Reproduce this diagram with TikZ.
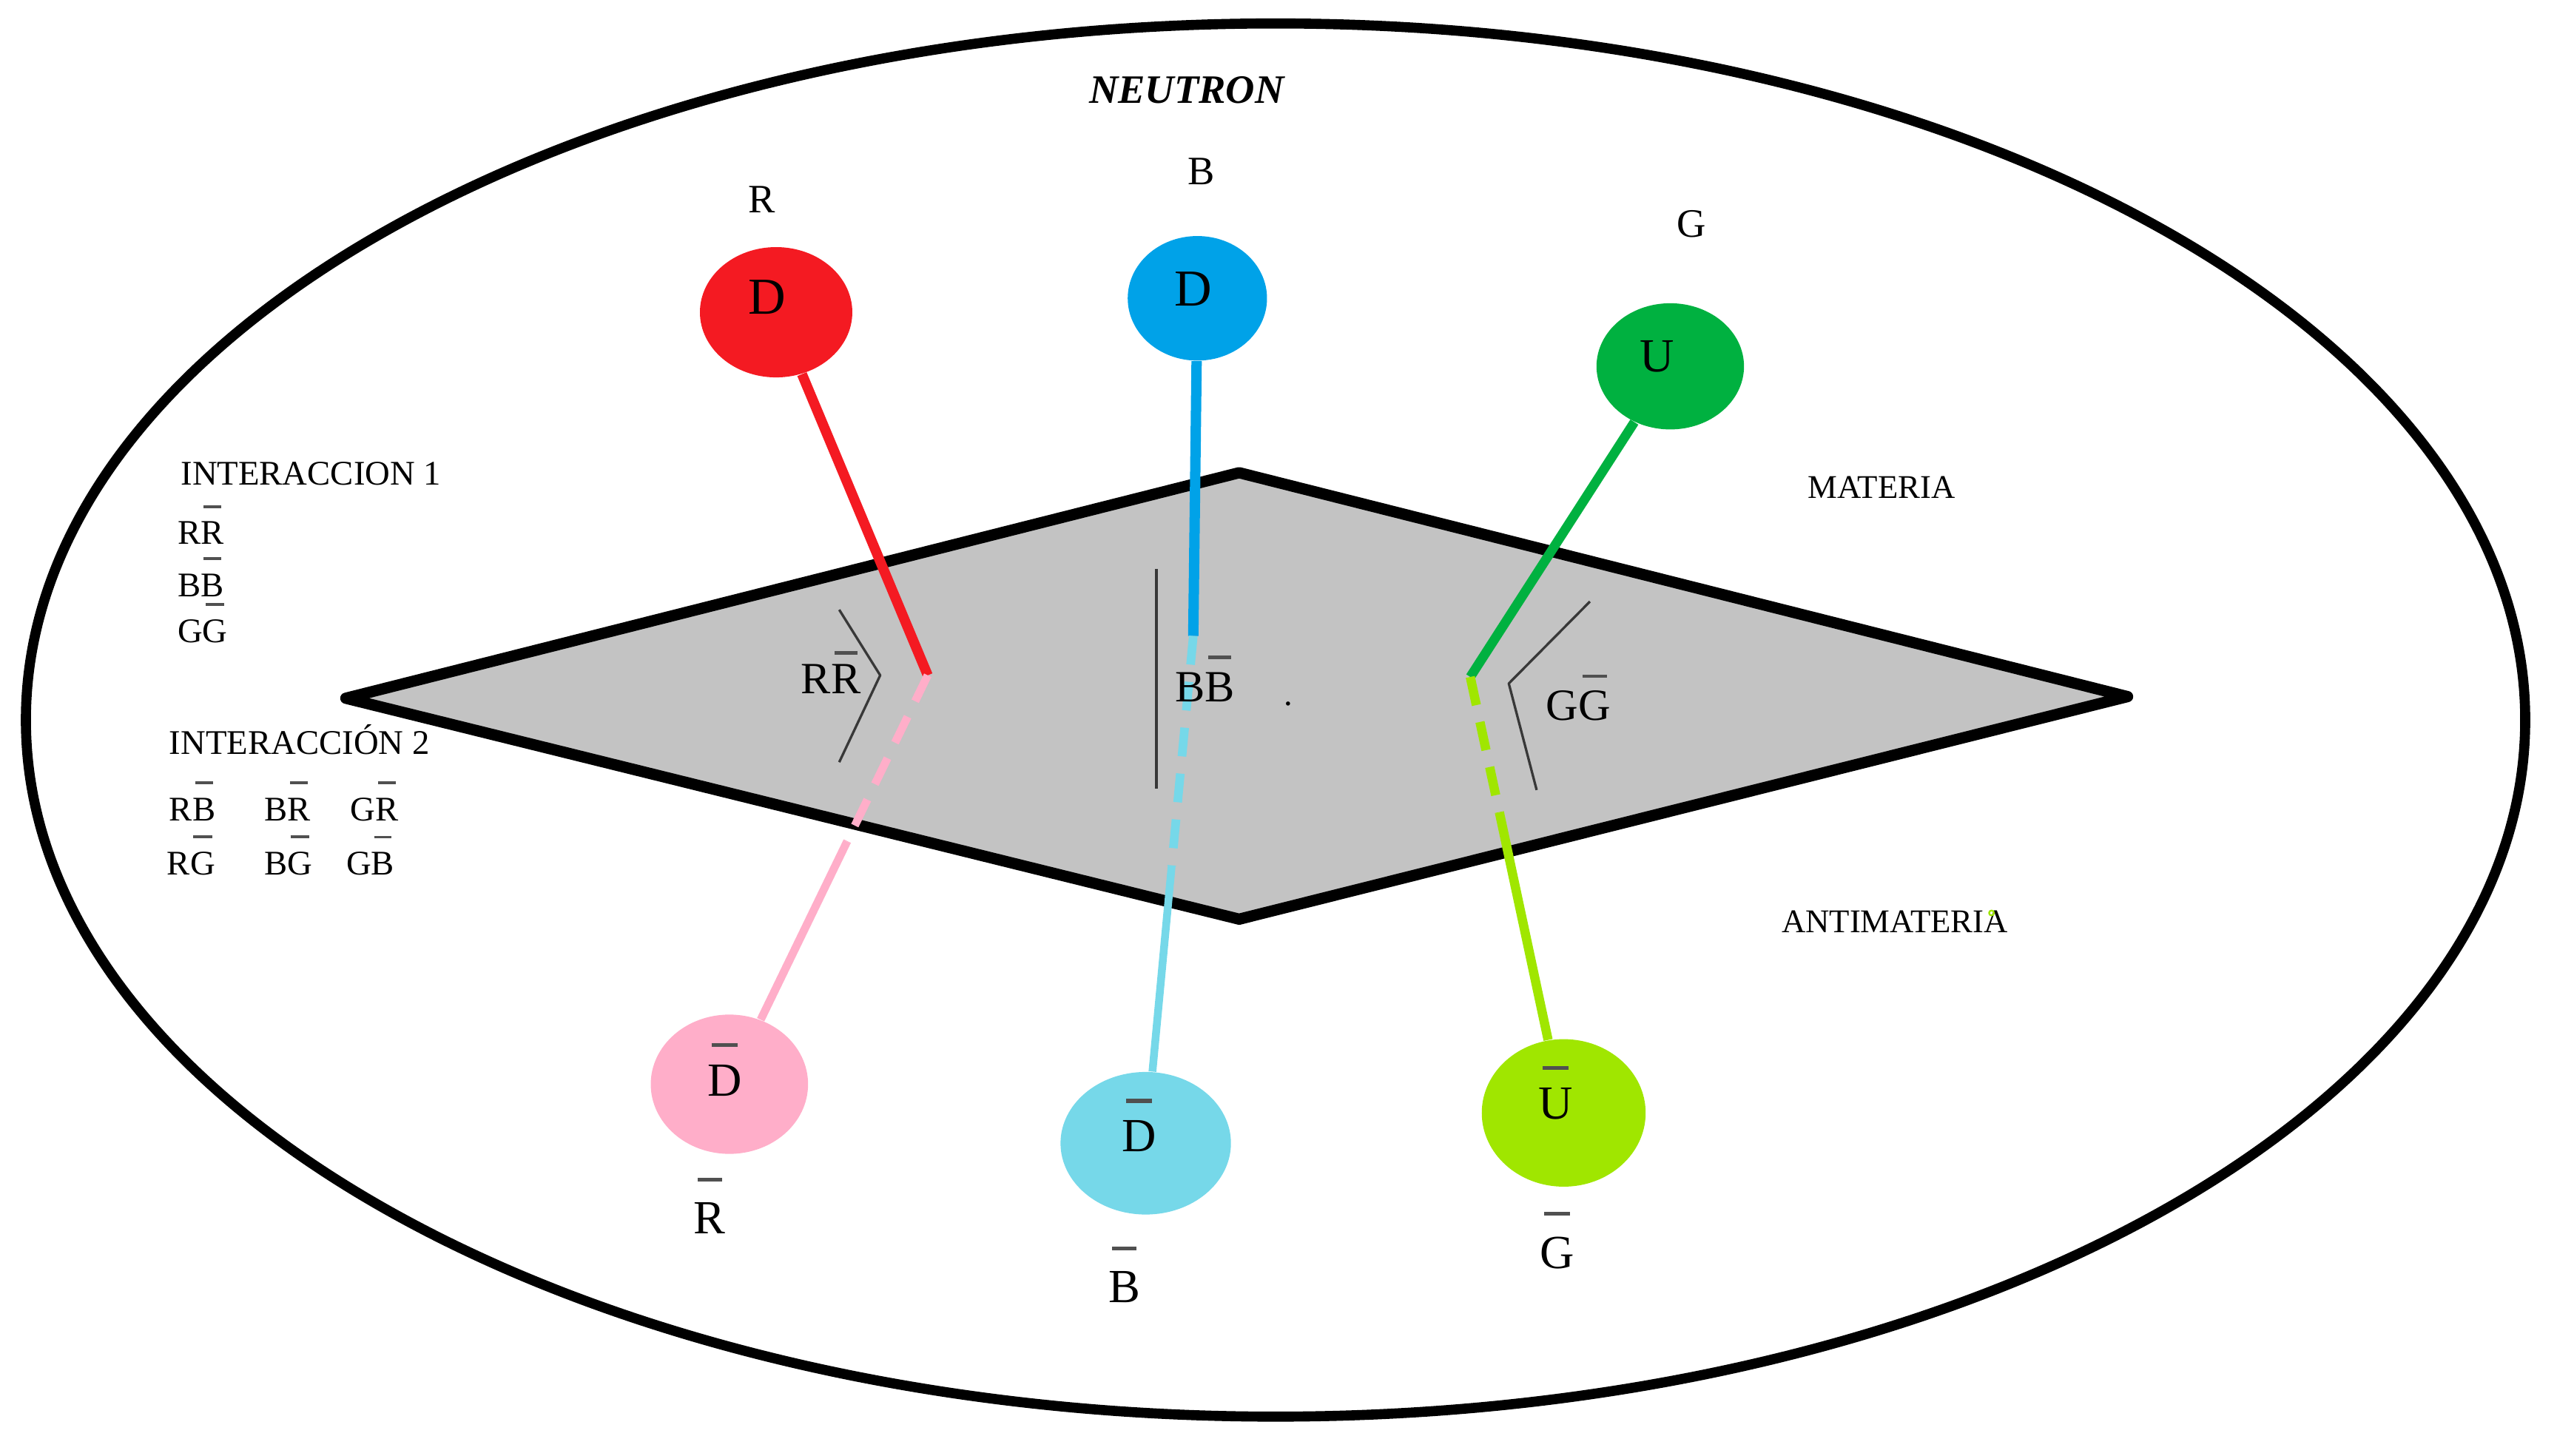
\documentclass[tikz,border=0pt]{standalone}
\usepackage{fontspec}
\setmainfont{Liberation Serif}
\usetikzlibrary{shapes.geometric}
\definecolor{qred}{HTML}{F41A22}
\definecolor{qblue}{HTML}{00A2E8}
\definecolor{qgreen}{HTML}{00B140}
\definecolor{qpink}{HTML}{FFAEC9}
\definecolor{qcyan}{HTML}{76D8E9}
\definecolor{qlime}{HTML}{A0E600}
\definecolor{plane}{HTML}{C3C3C3}
\definecolor{barc}{HTML}{505050}
% letter with a raised bar above it (does not change the box height)
\newcommand{\ob}[2][0.4em]{{\setbox0=\hbox{#2}\rlap{\hspace{0.12\wd0}\smash{\raisebox{\dimexpr\ht0+#1\relax}{\textcolor{barc}{\rule{0.76\wd0}{0.08em}}}}}\box0}}
\tikzset{
  quark/.style={ellipse, draw=none, inner sep=0pt},
  txt/.style={inner sep=0pt, text height=0.66em, text depth=0pt},
  small/.style={txt, font=\fontsize{12}{14}\selectfont},
  mid/.style={txt, font=\fontsize{14}{16}\selectfont},
  big/.style={txt, font=\fontsize{16.5}{19}\selectfont},
  huge/.style={txt, font=\fontsize{18}{21}\selectfont},
  planelbl/.style={txt, font=\fontsize{15.5}{18}\selectfont},
  bracket/.style={draw=black!78, line width=0.85pt},
  dashpat/.style={dash pattern=on 10pt off 6pt},
}
\begin{document}
\begin{tikzpicture}[x=0.02cm, y=-0.02cm, line join=round]
\useasboundingbox (0,0) rectangle (1560,887.9);

% outer neutron ellipse
\draw[line width=3.5pt] (778.2,439.3) ellipse [x radius=762.4, y radius=425];

% plane (diamond)
\draw[line width=3.9pt, fill=plane] (211,426) -- (756,288.4) -- (1298,425) -- (756,560.8) -- cycle;

% title and side labels
\node[mid, font=\fontsize{14}{16}\selectfont\bfseries\itshape] (neutron) at (724,57) {NEUTRON};
\node[small, font=\fontsize{11.5}{14}\selectfont] (materia) at (1148,298) {MATERIA};
\node[small, font=\fontsize{11.5}{14}\selectfont] (antimateria) at (1156,563) {ANTIMATERIA};
\draw[qlime, line width=0.6pt] (1215,557) circle (1.5);

% left legend
\node[small, anchor=west] (i1) at (110,290) {INTERACCION 1};
\node[small, anchor=west] (i1a) at (108,326.4) {R\ob{R}};
\node[small, anchor=west] (i1b) at (108,358.2) {B\ob{B}};
\node[small, anchor=west] (i1c) at (108,386.3) {G\ob{G}};
\node[small, anchor=west] (i2) at (103,454.6) {INTERACCIÓN 2};
\node[small, anchor=west] (i2a) at (103,495) {R\ob{B}};
\node[small, anchor=west] (i2b) at (161,495) {B\ob{R}};
\node[small, anchor=west] (i2c) at (213.6,495) {G\ob{R}};
\node[small, anchor=west] (i2d) at (101.6,528) {R\ob{G}};
\node[small, anchor=west] (i2e) at (161,528) {B\ob{G}};
\node[small, anchor=west] (i2f) at (211,528) {G\ob{B}};

% colour labels
\node[mid] (cR) at (465,124) {R};
\node[mid] (cB) at (733,107) {B};
\node[mid] (cG) at (1032,139) {G};
\node[big] (aR) at (433,747) {\ob[0.45em]{R}};
\node[big] (aB) at (686,789) {\ob[0.45em]{B}};
\node[big] (aG) at (950,768) {\ob[0.45em]{G}};

% quarks
\node[quark, fill=qred,   minimum width=1.86cm, minimum height=1.59cm] (qr) at (473.5,190.5) {};
\node[quark, fill=qblue,  minimum width=1.70cm, minimum height=1.52cm] (qb) at (730.5,182) {};
\node[quark, fill=qgreen, minimum width=1.80cm, minimum height=1.54cm] (qg) at (1019,223.5) {};
\node[quark, fill=qpink,  minimum width=1.92cm, minimum height=1.70cm] (ap) at (445,661.5) {};
\node[quark, fill=qcyan,  minimum width=2.08cm, minimum height=1.74cm] (ac) at (699,697.5) {};
\node[quark, fill=qlime,  minimum width=2.00cm, minimum height=1.80cm] (al) at (954,679) {};

\node[huge] (qrt) at (468,186) {D};
\node[huge] (qbt) at (728,181) {D};
\node[big]  (qgt) at (1011,221) {U};
\node[big]  (apt) at (442,663) {\ob[0.38em]{D}};
\node[big]  (act) at (695,697) {\ob[0.38em]{D}};
\node[big]  (alt) at (949,677) {\ob[0.38em]{U}};

% junction points on the plane and dash-to-solid points
\coordinate (jr) at (566,412);
\coordinate (jb) at (728,388);
\coordinate (jg) at (897,413);
\coordinate (pm) at (516.7,513.6);
\coordinate (cm) at (714.8,528.5);
\coordinate (lm) at (914.8,495.8);

% matter strings
\draw[qred,   line width=3.5pt] (qr) -- (jr);
\draw[qblue,  line width=3.6pt] (qb) -- (jb);
\draw[qgreen, line width=3.3pt] (qg) -- (jg);

% antimatter strings
\draw[qpink, line width=2.8pt, dashpat] (jr) -- (pm);
\draw[qpink, line width=2.8pt] (pm) -- (ap);
\draw[qcyan, line width=3pt, dashpat] (jb) -- (cm);
\draw[qcyan, line width=2.7pt] (cm) -- (ac);
\draw[qlime, line width=3.2pt, dashpat] (jg) -- (lm);
\draw[qlime, line width=3.2pt] (lm) -- (al);

% brackets and pair labels on the plane
\draw[bracket] (512,372) -- (537,412) -- (512,465);
\draw[bracket] (705.5,347) -- (705.5,481);
\draw[bracket] (970,367) -- (920.5,417) -- (937.5,482);
\node[planelbl] (prr) at (507,417.5) {R\ob[0.22em]{R}};
\node[planelbl] (pbb) at (735,422.5) {B\ob[0.3em]{B}};
\node[planelbl] (pgg) at (963,433.5) {G\ob[0.28em]{G}};
\node[inner sep=0pt, font=\fontsize{12}{14}\selectfont] (dot) at (785.8,429.5) {.};
\end{tikzpicture}
\end{document}
